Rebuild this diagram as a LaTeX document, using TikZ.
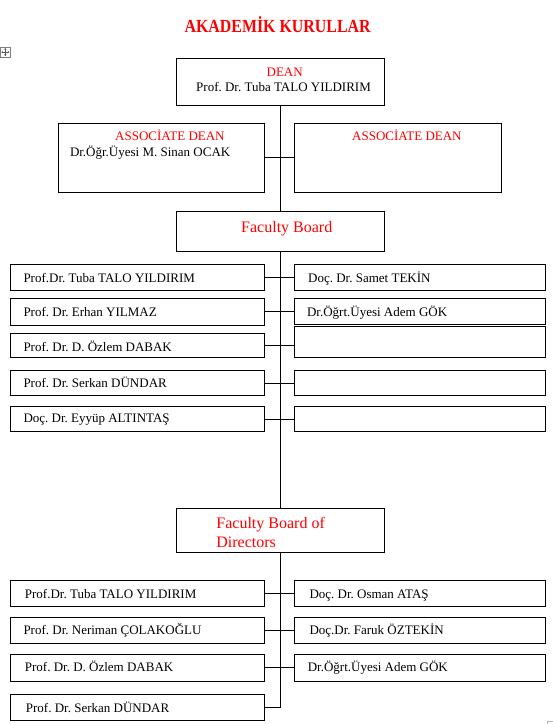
\documentclass[tikz,border=0pt]{standalone}
\usepackage{fontspec}
\setmainfont{Liberation Serif}
\frenchspacing
\begin{document}
\begin{tikzpicture}[x=1pt,y=-1pt,
  box/.style={draw=black,line width=0.9pt,inner sep=0pt,outer sep=0pt,rectangle},
  txt/.style={anchor=base west,inner sep=0pt,font=\fontsize{13}{15}\selectfont},
  rtxt/.style={txt,text=red},
  big/.style={anchor=base west,inner sep=0pt,text=red,font=\fontsize{16}{18}\selectfont},
  link/.style={line width=0.9pt,draw=black}]
\useasboundingbox (0,0) rectangle (553,724);
\newcommand\bx[5]{\node[box,minimum width={#4-#2},minimum height={#5-#3}] (#1) at ({(#2+#4)/2},{(#3+#5)/2}) {};}
% title
\node[anchor=base,inner sep=0pt,text=red,font=\fontsize{18.5}{20}\selectfont\bfseries] (title) at (277.6,32) {\scalebox{0.86}[1]{AKADEMİK KURULLAR}};
% move handle
\node[draw=gray,line width=0.6pt,minimum size=10pt,inner sep=0pt] (handle) at (5.3,52) {};
\draw[gray!70!black,line width=0.5pt] (1.8,52)--(8.8,52) (5.3,48.5)--(5.3,55.5);
\draw[gray!70!black,line width=0.5pt] (2.8,51)--(1.8,52)--(2.8,53) (7.8,51)--(8.8,52)--(7.8,53) (4.3,49.5)--(5.3,48.5)--(6.3,49.5) (4.3,54.5)--(5.3,55.5)--(6.3,54.5);
% boxes
\bx{dean}{176.2}{58.3}{384.5}{105.3}
\bx{asL}{58.2}{123.3}{264.6}{192.3}
\bx{asR}{294.5}{123.3}{501.2}{192.3}
\bx{fb}{176.2}{211.3}{384.5}{251.3}
\bx{fbL1}{10.6}{264.3}{264.6}{290}
\bx{fbL2}{10.6}{298.3}{264.6}{325}
\bx{fbL3}{10.6}{333.3}{264.6}{357.7}
\bx{fbL4}{10.6}{370.7}{264.6}{395.7}
\bx{fbL5}{10.6}{406.7}{264.6}{431.7}
\bx{fbR1}{294.5}{264.3}{545.7}{290}
\bx{fbR2}{294.5}{298.3}{545.7}{324.3}
\bx{fbR3}{294.5}{326.7}{545.7}{357.7}
\bx{fbR4}{294.5}{370.7}{545.7}{395.7}
\bx{fbR5}{294.5}{406.7}{545.7}{431.7}
\bx{fbod}{176.2}{508.3}{384.5}{552.3}
\bx{dL1}{10.6}{580.3}{264.6}{606.3}
\bx{dL2}{10.6}{617.3}{264.6}{643.3}
\bx{dL3}{10.6}{654.3}{264.6}{681.3}
\bx{dL4}{10.6}{694.3}{264.6}{720}
\bx{dR1}{294.5}{580.3}{545.7}{606.3}
\bx{dR2}{294.5}{617.3}{545.7}{643.3}
\bx{dR3}{294.5}{654.3}{545.7}{681.3}
% texts
\node[rtxt,anchor=base] (tdean) at (284.7,76) {DEAN};
\node[txt] (tdeanp) at (196,91) {Prof. Dr. Tuba TALO YILDIRIM};
\node[rtxt] (tasL) at (115,140.3) {ASSOCİATE DEAN};
\node[txt] (tasLp) at (69.8,156.6) {Dr.Öğr.Üyesi M. Sinan OCAK};
\node[rtxt] (tasR) at (352,140.3) {ASSOCİATE DEAN};
\node[big] (tfb) at (241,232) {Faculty Board};
\node[txt] (tfbL1) at (23.3,282.6) {Prof.Dr. Tuba TALO YILDIRIM};
\node[txt] (tfbL2) at (23.3,316.6) {Prof. Dr. Erhan YILMAZ};
\node[txt] (tfbL3) at (23.3,351) {Prof. Dr. D. Özlem DABAK};
\node[txt] (tfbL4) at (23.3,387.6) {Prof. Dr. Serkan DÜNDAR};
\node[txt] (tfbL5) at (23.3,422.6) {Doç. Dr. Eyyüp ALTINTAŞ};
\node[txt] (tfbR1) at (308,282.6) {Doç. Dr. Samet TEKİN};
\node[txt] (tfbR2) at (306.9,316.6) {Dr.Öğrt.Üyesi Adem GÖK};
\node[big] (tfbod1) at (216.2,528.6) {Faculty Board of};
\node[big] (tfbod2) at (216.2,547) {Directors};
\node[txt] (tdL1) at (24.7,598.3) {Prof.Dr. Tuba TALO YILDIRIM};
\node[txt] (tdL2) at (23.3,634.3) {Prof. Dr. Neriman ÇOLAKOĞLU};
\node[txt] (tdL3) at (24.7,671.6) {Prof. Dr. D. Özlem DABAK};
\node[txt] (tdL4) at (25.7,712) {Prof. Dr. Serkan DÜNDAR};
\node[txt] (tdR1) at (309.3,598.3) {Doç. Dr. Osman ATAŞ};
\node[txt] (tdR2) at (309.3,634.3) {Doç.Dr. Faruk ÖZTEKİN};
\node[txt] (tdR3) at (307.6,671.6) {Dr.Öğrt.Üyesi Adem GÖK};
% connectors
\draw[link] (dean.south) -- (fb.north);
\draw[link] (fb.south) -- (fbod.north);
\draw[link] (asL.east) -- (asR.west);
\draw[link] (fbL1.east) -- (fbR1.west);
\draw[link] (fbL2.east) -- (fbL2.east -| fbR2.west);
\draw[link] (fbL3.east) -- (fbL3.east -| fbR3.west);
\draw[link] (fbL4.east) -- (fbR4.west);
\draw[link] (fbL5.east) -- (fbR5.west);
\draw[link] (dL1.east) -- (dR1.west);
\draw[link] (dL2.east) -- (dR2.west);
\draw[link] (dL3.east) -- (dR3.west);
\draw[link] (fbod.south) -- (fbod.south |- dL4.east) -- (dL4.east);
% table corner mark
\draw[gray!60,line width=0.6pt] (547.5,724) -- (547.5,720.8) -- (553,720.8);
\end{tikzpicture}
\end{document}
